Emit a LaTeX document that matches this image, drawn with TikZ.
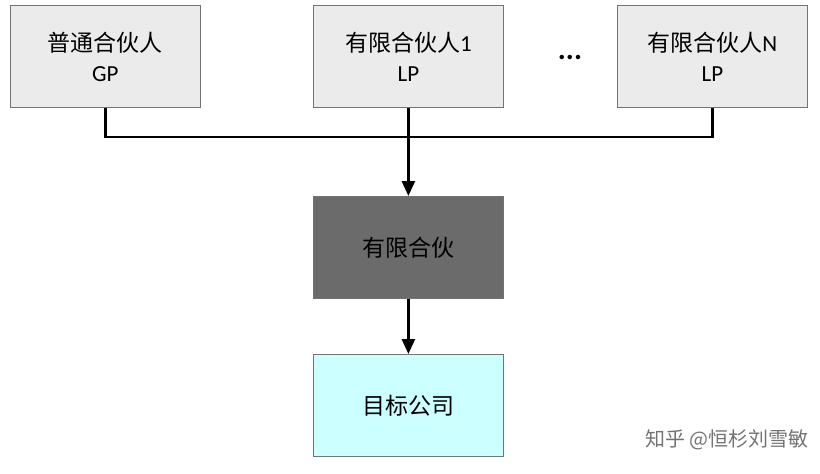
\documentclass[tikz,border=0pt]{standalone}
\usepackage{fontspec}
\setmainfont{Carlito}
\newfontfamily\cjk{Noto Sans CJK SC}
\usetikzlibrary{arrows.meta}
\definecolor{tcyan}{HTML}{CCFFFF}
\begin{document}
\begin{tikzpicture}[x=1pt,y=-1pt,
  box/.style={draw=black!55,line width=0.8pt,minimum width=190pt,minimum height=102pt,anchor=north west,align=center,inner sep=0pt,font=\fontsize{23}{30}\selectfont},
  conn/.style={line width=2.6pt,black},
  arr/.style={conn,-{Triangle[length=15pt,width=13pt]}}]
\useasboundingbox (0,0) rectangle (820,474);
\node[box,fill=black!8] (gp) at (10,5) {{\cjk 普通合伙人}\\GP};
\node[box,fill=black!8] (lp1) at (313,5) {{\cjk 有限合伙人}1\\LP};
\node[box,fill=black!8] (lpn) at (617,5) {{\cjk 有限合伙人}N\\LP};
\node[font=\bfseries\fontsize{30}{30}\selectfont] (dots) at (570,57) {...};
\node[box,fill=black!58] (lpp) at (313,196) {\cjk 有限合伙};
\node[box,fill=tcyan] (tgt) at (313,354) {\cjk 目标公司};
\coordinate (j) at (408,137);
\draw[conn] (gp.south) |- (j) -| (lpn.south);
\draw[arr] (lp1.south) -- (lpp.north);
\draw[arr] (lpp.south) -- (tgt.north);
\node[font=\cjk\fontsize{20}{20}\selectfont,text=black!55,anchor=east] (wm) at (812,440) {知乎 @恒杉刘雪敏};
\end{tikzpicture}
\end{document}
